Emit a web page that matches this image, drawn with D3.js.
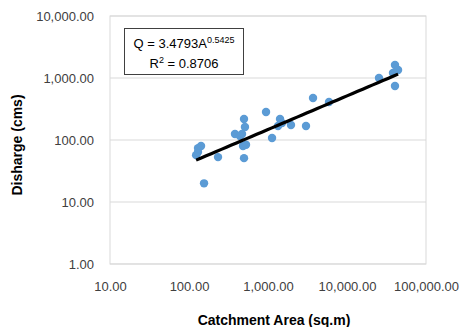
<!DOCTYPE html>
<html>
<head>
<meta charset="utf-8">
<script src="https://cdn.jsdelivr.net/npm/d3@7"></script>
<style>
  body { margin: 0; background: #fff; }
  text { font-family: "Liberation Sans", Arial, sans-serif; }
</style>
</head>
<body>
<div id="chart"></div>
<script>
// catchment area (sq.m) and discharge (cms) per station
const areas = [123, 130, 130, 142, 155, 233, 382, 442, 497, 511, 469, 483, 527, 497,
  944, 1125, 1420, 1503, 1340, 1954, 3027, 3715, 5918, 25400, 40500, 44300, 38200, 40500]
const discharges = [57, 64, 74, 80, 20, 53, 125, 116, 218, 162, 125, 80, 84, 51,
  283, 108, 218, 188, 168, 175, 168, 476, 410, 1000, 1620, 1345, 1205, 743]
const xTicks = [10, 100, 1000, 10000, 100000]
const yTicks = [1, 10, 100, 1000, 10000]
const fitCoef = 3.4793
const fitExp = 0.5425
const rSquared = 0.8706

const width = 464
const height = 327
const margin = { top: 16, right: 38, bottom: 63, left: 110 }

const svg = d3.select('#chart')
  .append('svg')
  .attr('width', width)
  .attr('height', height)

const x = d3.scaleLog()
  .domain([10, 100000])
  .range([margin.left, width - margin.right])

const y = d3.scaleLog()
  .domain([1, 10000])
  .range([height - margin.bottom, margin.top])

const fmt = d3.format(',.2f')

// horizontal gridlines
svg.append('g')
  .selectAll('line')
  .data(yTicks)
  .enter()
  .append('line')
  .attr('x1', x.range()[0])
  .attr('x2', x.range()[1])
  .attr('y1', d => y(d))
  .attr('y2', d => y(d))
  .attr('stroke', '#d9d9d9')
  .attr('stroke-width', 1)

// plot area border
svg.append('rect')
  .attr('x', x.range()[0])
  .attr('y', y.range()[1])
  .attr('width', x.range()[1] - x.range()[0])
  .attr('height', y.range()[0] - y.range()[1])
  .attr('fill', 'none')
  .attr('stroke', '#d9d9d9')

const xAxis = svg.append('g')
  .attr('transform', `translate(0, ${height - margin.bottom})`)
  .call(d3.axisBottom(x).tickValues(xTicks).tickFormat(fmt).tickSize(0).tickPadding(18))
xAxis.select('.domain').remove()
xAxis.selectAll('text')
  .attr('font-size', 13)
  .attr('fill', '#404040')
  .style('font-family', '"Liberation Sans", Arial, sans-serif')

const yAxis = svg.append('g')
  .attr('transform', `translate(${margin.left}, 0)`)
  .call(d3.axisLeft(y).tickValues(yTicks).tickFormat(fmt).tickSize(0).tickPadding(16))
yAxis.select('.domain').remove()
yAxis.selectAll('text')
  .attr('font-size', 13)
  .attr('fill', '#404040')
  .style('font-family', '"Liberation Sans", Arial, sans-serif')

// power trendline
const xMin = d3.min(areas)
const xMax = d3.max(areas)
const fitPts = d3.range(0, 41).map(i => {
  const a = xMin * Math.pow(xMax / xMin, i / 40)
  return [a, fitCoef * Math.pow(a, fitExp)]
})

// points
svg.append('g')
  .selectAll('circle')
  .data(areas)
  .enter()
  .append('circle')
  .attr('cx', d => x(d))
  .attr('cy', (_, i) => y(discharges[i]))
  .attr('r', 4.2)
  .attr('fill', '#5b9bd5')

svg.append('path')
  .datum(fitPts)
  .attr('fill', 'none')
  .attr('stroke', '#000')
  .attr('stroke-width', 3.2)
  .attr('d', d3.line().x(d => x(d[0])).y(d => y(d[1])))

// equation box
svg.append('rect')
  .attr('x', 124.5)
  .attr('y', 28.5)
  .attr('width', 119)
  .attr('height', 46)
  .attr('fill', '#fff')
  .attr('stroke', '#404040')
  .attr('stroke-width', 1)

const eq = svg.append('text')
  .attr('x', 184)
  .attr('y', 48)
  .attr('text-anchor', 'middle')
  .attr('font-size', 13)
  .attr('fill', '#000')
eq.append('tspan').text(`Q = ${fitCoef}A`)
eq.append('tspan').attr('font-size', 9).attr('dy', -5).text(fitExp)

const r2 = svg.append('text')
  .attr('x', 184)
  .attr('y', 68)
  .attr('text-anchor', 'middle')
  .attr('font-size', 13)
  .attr('fill', '#000')
r2.append('tspan').text('R')
r2.append('tspan').attr('font-size', 9).attr('dy', -5).text('2')
r2.append('tspan').attr('dy', 5).text(` = ${rSquared}`)

// axis titles
svg.append('text')
  .attr('x', 274)
  .attr('y', 325)
  .attr('text-anchor', 'middle')
  .attr('font-size', 14)
  .attr('font-weight', 'bold')
  .attr('fill', '#000')
  .text('Catchment Area (sq.m)')

svg.append('text')
  .attr('transform', 'translate(22, 145) rotate(-90)')
  .attr('text-anchor', 'middle')
  .attr('font-size', 14)
  .attr('font-weight', 'bold')
  .attr('fill', '#000')
  .text('Disharge (cms)')
</script>
</body>
</html>
